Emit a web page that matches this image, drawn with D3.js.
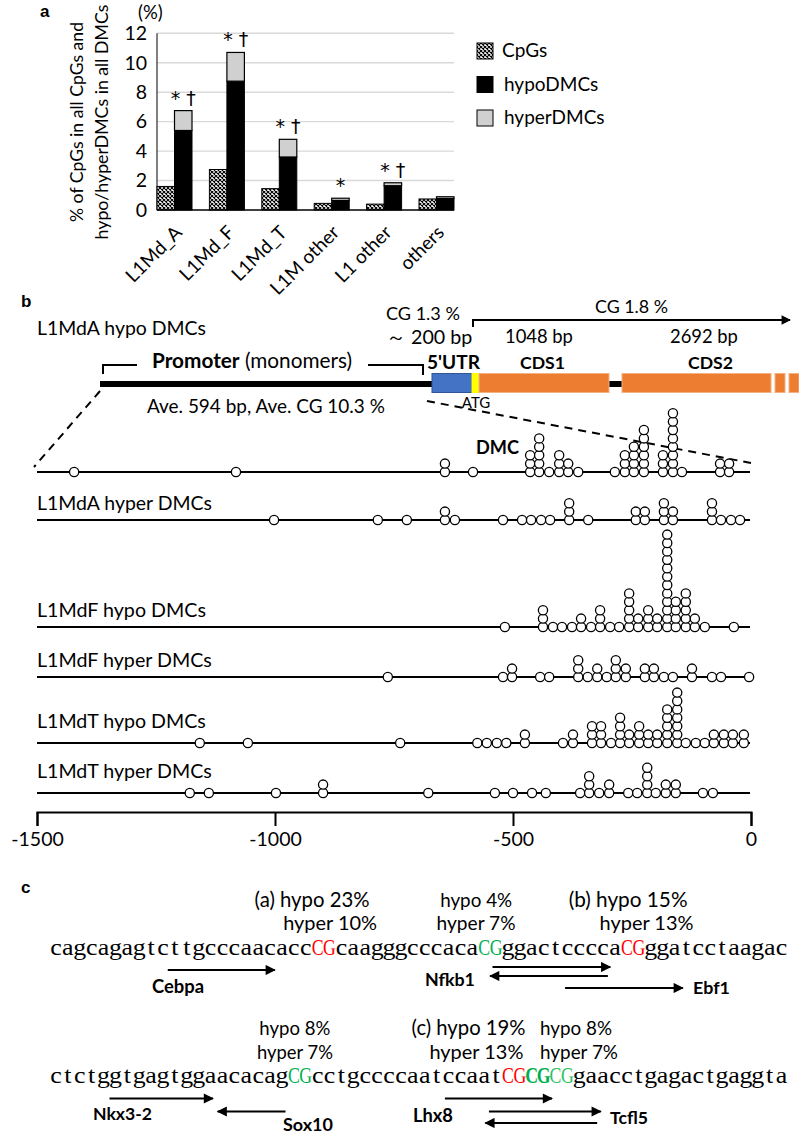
<!DOCTYPE html>
<html><head><meta charset="utf-8">
<script src="https://cdn.jsdelivr.net/npm/d3@7"></script>
<style>body{margin:0;background:#fff}svg{display:block}</style>
</head><body>
<svg id="fig" width="799" height="1139"></svg>
<script>
// ---------------- DATA ----------------
// panel a
const categories = ["L1Md_A","L1Md_F","L1Md_T","L1M other","L1 other","others"];
const cpgPct   = [1.6, 2.75, 1.45, 0.45, 0.4, 0.75];
const hypoPct  = [5.4, 8.75, 3.6, 0.65, 1.65, 0.78];
const hyperPct = [1.35, 1.95, 1.2, 0.15, 0.2, 0.12];
const sigMarks = ["* †","* †","* †","*","* †",""];
const yTicksA  = [0,2,4,6,8,10,12];
const legendA  = ["CpGs","hypoDMCs","hyperDMCs"];

// panel b : [position (bp), number of stacked DMCs]
const rowLabels = ["L1MdA hypo DMCs","L1MdA hyper DMCs","L1MdF hypo DMCs","L1MdF hyper DMCs","L1MdT hypo DMCs","L1MdT hyper DMCs"];
const dmcAHypo  = [[-1422,1],[-1082,1],[-643,2],[-584,1],[-464,3],[-445,5],[-424,1],[-403,3],[-384,2],[-363,1],[-286,1],[-265,3],[-246,4],[-225,6],[-185,3],[-164,8],[-145,1],[-65,2],[-46,2]];
const dmcAHyper = [[-1002,1],[-784,1],[-723,1],[-643,2],[-622,1],[-521,1],[-481,1],[-462,1],[-441,1],[-422,1],[-382,3],[-342,1],[-242,2],[-223,2],[-183,3],[-164,2],[-82,3],[-63,1],[-42,1],[-23,1]];
const dmcFHypo  = [[-517,1],[-437,3],[-416,1],[-397,1],[-376,1],[-357,2],[-336,1],[-317,3],[-296,1],[-277,1],[-256,5],[-237,2],[-216,3],[-197,2],[-176,12],[-158,4],[-137,5],[-118,2],[-97,1],[-36,1]];
const dmcFHyper = [[-763,1],[-521,1],[-502,2],[-443,1],[-424,1],[-363,3],[-343,1],[-323,2],[-303,1],[-284,3],[-263,2],[-223,2],[-204,2],[-183,1],[-164,1],[-124,2],[-82,1],[-63,1],[-4,1]];
const dmcTHypo  = [[-1158,1],[-1057,1],[-737,1],[-575,1],[-555,1],[-534,1],[-514,1],[-475,2],[-395,1],[-374,2],[-334,3],[-315,3],[-294,1],[-275,4],[-256,2],[-235,3],[-216,2],[-197,2],[-176,5],[-155,7],[-137,1],[-116,1],[-97,1],[-78,2],[-57,2],[-38,2],[-15,2]];
const dmcTHyper = [[-1179,1],[-1139,1],[-998,1],[-899,2],[-678,1],[-538,1],[-500,1],[-460,1],[-431,1],[-359,1],[-340,3],[-319,1],[-298,2],[-258,1],[-239,1],[-218,4],[-200,1],[-179,2],[-158,2],[-101,1],[-80,1]];
const dmcRows = [dmcAHypo, dmcAHyper, dmcFHypo, dmcFHyper, dmcTHypo, dmcTHyper];
const xTicksB = [-1500,-1000,-500,0];

// gene schematic (schematic units, not to scale)
const geneParts = [
  {name:"promoter", s:0,   e:332, kind:"line"},
  {name:"5'UTR",    s:332, e:372, kind:"utr"},
  {name:"ATG",      s:372, e:379, kind:"atg"},
  {name:"CDS1",     s:379, e:509, kind:"cds"},
  {name:"link",     s:509, e:522, kind:"line"},
  {name:"CDS2",     s:522, e:671, kind:"cds"},
  {name:"tail1",    s:675, e:685, kind:"cds"},
  {name:"tail2",    s:689, e:699, kind:"cds"}
];

// panel c
const seq1 = [["cagcagagtcttgcccaacacc","n"],["CG","r"],["caagggcccaca","n"],["CG","g"],["ggactcccca","n"],["CG","r"],["ggatcctaagac","n"]];
const seq2 = [["ctctggtgagtggaacacag","n"],["CG","g"],["cctgccccaatccaat","n"],["CG","r"],["CG","gb"],["CG","gl"],["gaacctgagactgaggta","n"]];
// [text, start char position, line (0 upper / 1 lower), width]
const annot1 = [["(a) hypo 23%",17.2,0,115],["hyper 10%",19.6,1,94],["hypo 4%",32.8,0,72],["hyper 7%",32.5,1,79],["(b) hypo 15%",43.6,0,119],["hyper 13%",46.2,1,94]];
const annot2 = [["hypo 8%",17.6,0,71],["hyper 7%",17.4,1,76],["(c) hypo 19%",30.4,0,114],["hyper 13%",31.9,1,94],["hypo 8%",41.2,0,72],["hyper 7%",41.2,1,78]];
// TF binding arrows: [label, fromChar, toChar, lane]
const tfArrows1 = [["Cebpa",9.9,18.9,0],["Nfkb1",37.2,47.1,-1],["Nfkb1",46.9,37.0,1],["Ebf1",43.3,53.2,2]];
const tfArrows2 = [["Nkx3-2",5.0,13.7,0],["Sox10",19.8,14.1,1],["Lhx8",33.2,42.2,0],["Tcfl5",36.9,46.3,1],["Tcfl5",46.0,36.6,2]];
const tfLabels = [["Cebpa",152,993,52],["Nfkb1",425,986,50],["Ebf1",693,994,37],["Nkx3-2",93,1120,59],["Sox10",283,1131,50],["Lhx8",413,1122,40],["Tcfl5",610,1124,38]];

// ---------------- DRAW ----------------
const FONT = "Lato, 'Open Sans', sans-serif";
const svg = d3.select("#fig");
svg.append("rect").attr("width",799).attr("height",1139).attr("fill","#fff");
const defs = svg.append("defs");
const pat = defs.append("pattern").attr("id","hatch").attr("patternUnits","userSpaceOnUse").attr("width",4).attr("height",4);
pat.append("rect").attr("width",4).attr("height",4).attr("fill","#fff");
pat.append("path").attr("d","M0,0L4,4M4,0L0,4").attr("stroke","#000").attr("stroke-width",1.1);
function marker(id, size){
  defs.append("marker").attr("id",id).attr("viewBox","0 0 10 10").attr("refX",9).attr("refY",5)
    .attr("markerUnits","userSpaceOnUse").attr("markerWidth",size).attr("markerHeight",size*0.85).attr("orient","auto")
    .append("path").attr("d","M0,0L10,5L0,10Z").attr("fill","#000");
}
marker("arrC",12); marker("arrB",11);

function fit(sel, w){
  sel.each(function(){
    const fs = parseFloat(this.getAttribute("font-size"));
    const l = this.getComputedTextLength();
    if (l>0) this.setAttribute("font-size",(fs*w/l).toFixed(2));
  });
  return sel;
}
function text(g, x, y, s, fs, opts={}){
  const t = g.append("text").attr("x",x).attr("y",y).attr("font-family",opts.family||FONT)
    .attr("font-size",fs).attr("fill",opts.fill||"#000").text(s);
  if (opts.weight) t.attr("font-weight",opts.weight);
  if (opts.anchor) t.attr("text-anchor",opts.anchor);
  if (opts.w) fit(t, opts.w);
  return t;
}

// ===== panel a =====
const gA = svg.append("g");
text(gA, 40, 17, "a", 17, {weight:"bold", family:"'Liberation Sans', Arial"});
const yA = d3.scaleLinear().domain([0,12]).range([210,33.3]);
const xA = d3.scaleBand().domain(categories).range([157,471.4]);
const barW = 17.5, plotRight = 454;
gA.selectAll("line.grid").data(yTicksA.filter(d=>d>0)).join("line").attr("class","grid")
  .attr("x1",xA.range()[0]).attr("x2",plotRight).attr("y1",d=>yA(d)).attr("y2",d=>yA(d))
  .attr("stroke","#d9d9d9").attr("stroke-width",1.4);
const axA = gA.append("g").attr("transform","translate(147,0)")
  .call(d3.axisLeft(yA).tickValues(yTicksA).tickSize(0).tickPadding(0).tickFormat(d=>d));
axA.select(".domain").remove();
axA.selectAll("text").attr("font-family",FONT).attr("font-size",19.5).attr("fill","#000");
text(gA, 138, 19, "(%)", 18.5);
gA.append("line").attr("x1",157).attr("x2",157).attr("y1",yA(12)).attr("y2",yA(0)).attr("stroke","#000").attr("stroke-width",1);

const rowsA = categories.map((c,i)=>({c, cpg:cpgPct[i], hypo:hypoPct[i], hyper:hyperPct[i], sig:sigMarks[i]}));
gA.selectAll("rect.cpg").data(rowsA).join("rect").attr("class","cpg")
  .attr("x",d=>xA(d.c)).attr("y",d=>yA(d.cpg)).attr("width",barW).attr("height",d=>yA(0)-yA(d.cpg))
  .attr("fill","url(#hatch)").attr("stroke","#000").attr("stroke-width",1);
gA.selectAll("rect.hypo").data(rowsA).join("rect").attr("class","hypo")
  .attr("x",d=>xA(d.c)+barW).attr("y",d=>yA(d.hypo)).attr("width",barW).attr("height",d=>yA(0)-yA(d.hypo))
  .attr("fill","#000").attr("stroke","#000").attr("stroke-width",1);
gA.selectAll("rect.hyper").data(rowsA).join("rect").attr("class","hyper")
  .attr("x",d=>xA(d.c)+barW).attr("y",d=>yA(d.hypo+d.hyper)).attr("width",barW).attr("height",d=>yA(d.hypo)-yA(d.hypo+d.hyper))
  .attr("fill","#d0d0d0").attr("stroke","#000").attr("stroke-width",1.2);
gA.selectAll("text.sig").data(rowsA).join("text").attr("class","sig")
  .attr("x",d=>xA(d.c)+barW*1.5).attr("y",d=>yA(d.hypo+d.hyper)-6).attr("text-anchor","middle")
  .attr("font-family","'DejaVu Sans', sans-serif").attr("font-size",19).text(d=>d.sig);
gA.append("line").attr("x1",157).attr("x2",plotRight).attr("y1",yA(0)).attr("y2",yA(0)).attr("stroke","#000").attr("stroke-width",1.5);
gA.selectAll("text.xl").data(rowsA).join("text").attr("class","xl")
  .attr("transform",d=>`translate(${xA(d.c)+barW+4},229) rotate(-45)`).attr("text-anchor","end").attr("dy","0.35em")
  .attr("font-family",FONT).attr("font-size",19).text(d=>d.c);
// y title
const yTitle = gA.append("g").attr("transform","translate(89,122) rotate(-90)");
text(yTitle, 0, -6, "% of CpGs in all CpGs and", 18, {anchor:"middle", w:200});
text(yTitle, 0, 19, "hypo/hyperDMCs in all DMCs", 18, {anchor:"middle", w:235});
// legend
const legY = d3.scalePoint().domain(legendA).range([51,118]);
const legFill = {"CpGs":"url(#hatch)","hypoDMCs":"#000","hyperDMCs":"#d0d0d0"};
const lg = gA.selectAll("g.leg").data(legendA).join("g").attr("class","leg").attr("transform",d=>`translate(477,${legY(d)})`);
lg.append("rect").attr("x",0).attr("y",-8).attr("width",16).attr("height",16).attr("fill",d=>legFill[d]).attr("stroke","#000").attr("stroke-width",1);
lg.append("text").attr("x",d=>d==="CpGs"?25:27).attr("y",6).attr("font-family",FONT).attr("font-size",19).text(d=>d);

// ===== panel b =====
const gB = svg.append("g");
text(gB, 21, 307, "b", 17, {weight:"bold", family:"'Liberation Sans', Arial"});
const xB = d3.scaleLinear().domain([-1500,0]).range([37,751]);
const gx = d3.scaleLinear().domain([0,700]).range([100,800]);
const geneY = 384, geneH = 19;
const partFill = {utr:"#4472C4", atg:"#FFFF00", cds:"#ED7D31"};
const partStroke = {utr:"#2F5597", atg:"#FFFF00", cds:"#F4B183"};
gB.selectAll("line.gl").data(geneParts.filter(p=>p.kind==="line")).join("line").attr("class","gl")
  .attr("x1",p=>gx(p.s)).attr("x2",p=>gx(p.e)).attr("y1",geneY).attr("y2",geneY).attr("stroke","#000").attr("stroke-width",6);
gB.selectAll("rect.gp").data(geneParts.filter(p=>p.kind!=="line")).join("rect").attr("class","gp")
  .attr("x",p=>gx(p.s)).attr("y",geneY-geneH/2-1).attr("width",p=>gx(p.e)-gx(p.s)).attr("height",geneH)
  .attr("fill",p=>partFill[p.kind]).attr("stroke",p=>partStroke[p.kind]).attr("stroke-width",1);
// brackets
gB.append("path").attr("d",`M${gx(3)},374V365H${gx(37)}`).attr("fill","none").attr("stroke","#000").attr("stroke-width",2);
gB.append("path").attr("d",`M${gx(268)},365H${gx(323)}V375`).attr("fill","none").attr("stroke","#000").attr("stroke-width",2);
const pt = gB.append("text").attr("x",152).attr("y",368).attr("font-family",FONT).attr("font-size",20);
pt.append("tspan").attr("font-weight","bold").text("Promoter");
pt.append("tspan").text(" (monomers)");
fit(pt, 200);
text(gB, 147, 413, "Ave. 594 bp, Ave. CG 10.3 %", 20, {w:238});
text(gB, 427, 369, "5'UTR", 20, {weight:"bold", w:53});
text(gB, 520, 369, "CDS1", 20, {weight:"bold", w:45});
text(gB, 688, 369, "CDS2", 20, {weight:"bold", w:45});
text(gB, 386, 320, "CG 1.3 %", 20, {w:74});
text(gB, 386, 344, "～ 200 bp", 20, {w:86});
text(gB, 595, 313, "CG 1.8 %", 20, {w:73});
text(gB, 505, 343, "1048 bp", 20, {w:68});
text(gB, 670, 343, "2692 bp", 20, {w:68});
gB.append("line").attr("x1",gx(373)).attr("x2",gx(690)).attr("y1",320).attr("y2",320).attr("stroke","#000").attr("stroke-width",2).attr("marker-end","url(#arrB)");
gB.append("line").attr("x1",gx(373)).attr("x2",gx(373)).attr("y1",319).attr("y2",327).attr("stroke","#000").attr("stroke-width",2);
// dashed zoom lines
gB.append("line").attr("x1",gx(0)).attr("y1",391).attr("x2",xB(-1500)-3).attr("y2",467).attr("stroke","#000").attr("stroke-width",2).attr("stroke-dasharray","8,6");
gB.append("line").attr("x1",gx(327)).attr("y1",401).attr("x2",xB(0)).attr("y2",463).attr("stroke","#000").attr("stroke-width",2).attr("stroke-dasharray","8,6");
text(gB, 476, 408, "ATG", 15, {anchor:"middle"});
text(gB, 476, 454, "DMC", 20, {weight:"bold", w:43});

const rowY = [472,520,627,677,743,793];
const labelY = [335,510,617,667,728,778];
const stepY = 8.4, rad = 4.6;
dmcRows.forEach((row,ri)=>{
  const g = gB.append("g");
  text(g, 37, labelY[ri], rowLabels[ri], 20, {w: ri%2===0 ? 169 : 175});
  g.append("line").attr("x1",xB(-1500)).attr("x2",xB(0)-1).attr("y1",rowY[ri]).attr("y2",rowY[ri]).attr("stroke","#000").attr("stroke-width",2);
  const pts = [];
  row.forEach(([bp,n])=>{ for(let k=0;k<n;k++) pts.push({bp,k}); });
  g.selectAll("circle").data(pts).join("circle")
    .attr("cx",d=>xB(d.bp)).attr("cy",d=>rowY[ri]-d.k*stepY).attr("r",rad)
    .attr("fill","#fff").attr("stroke","#000").attr("stroke-width",1.3);
});
const axB = gB.append("g").attr("transform","translate(0,812)")
  .call(d3.axisBottom(xB).tickValues(xTicksB).tickSize(14).tickSizeOuter(14).tickPadding(6).tickFormat(d=>String(d)));
axB.selectAll("path,line").attr("stroke","#000").attr("stroke-width",2);
axB.selectAll("text").attr("font-family",FONT).attr("font-size",19.5).attr("fill","#000");

// ===== panel c =====
const gC = svg.append("g");
text(gC, 21, 893, "c", 17, {weight:"bold", family:"'Liberation Sans', Arial"});
const xC = d3.scaleLinear().domain([0,62]).range([50,787.5]);
const seqColor = {n:"#000", r:"#FF0000", g:"#00B050", gb:"#00B050", gl:"#2FC060"};
function drawSeq(seq, base){
  const chars = [];
  let i = 0;
  seq.forEach(([s,cls])=>{ for(const ch of s){ chars.push({ch,cls,i}); i++; } });
  gC.selectAll(null).data(chars).join("text")
    .attr("transform",d=>`translate(${xC(d.i+0.5)},${base})` + (d.cls==="n" ? " scale(1.08,1)" : " scale(0.74,1)"))
    .attr("text-anchor","middle").attr("font-family","'Liberation Serif', 'DejaVu Serif', serif")
    .attr("font-size",24).attr("font-weight",d=>(d.cls==="gb")?"bold":"normal")
    .attr("fill",d=>seqColor[d.cls]).text(d=>d.ch);
}
drawSeq(seq1, 955);
drawSeq(seq2, 1083);
const annY1 = [907,930], annY2 = [1035,1059];
annot1.forEach(([s,ci,l,w])=>text(gC, xC(ci), annY1[l], s, 20.5, {w}));
annot2.forEach(([s,ci,l,w])=>text(gC, xC(ci), annY2[l], s, 20.5, {w}));

function arrows(list, ys){
  list.forEach(([lab,a,b,lane])=>{
    gC.append("line").attr("x1",xC(a)).attr("x2",xC(b)).attr("y1",ys[lane]).attr("y2",ys[lane])
      .attr("stroke","#000").attr("stroke-width",2).attr("marker-end","url(#arrC)");
  });
}
arrows(tfArrows1, {"-1":967, 0:970, 1:976, 2:988});
arrows(tfArrows2, {0:1098.5, 1:1111.5, 2:1123});
tfLabels.forEach(([s,x,y,w])=>text(gC, x, y, s, 19, {weight:"bold", w}));
</script>
</body></html>
